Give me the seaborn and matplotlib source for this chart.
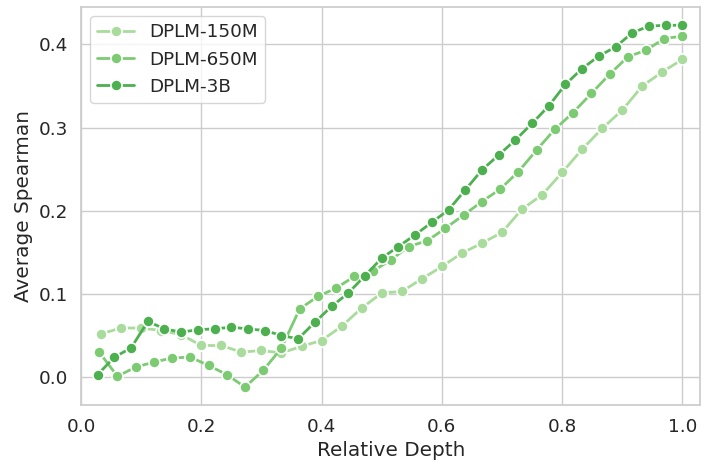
import numpy as np
import pandas as pd
import matplotlib
matplotlib.use("Agg")
import matplotlib.pyplot as plt
import seaborn as sns

# Average Spearman per layer (layers normalised to relative depth)
models = ["DPLM-150M", "DPLM-650M", "DPLM-3B"]

spearman_150m = [0.052, 0.059, 0.059, 0.056, 0.051, 0.038, 0.038, 0.030, 0.032, 0.029,
                 0.037, 0.044, 0.061, 0.083, 0.101, 0.103, 0.118, 0.133, 0.149, 0.161,
                 0.174, 0.202, 0.219, 0.246, 0.274, 0.299, 0.321, 0.350, 0.367, 0.382]

spearman_650m = [0.030, 0.001, 0.012, 0.018, 0.023, 0.024, 0.014, 0.003, -0.012, 0.008,
                 0.035, 0.082, 0.097, 0.107, 0.121, 0.127, 0.141, 0.157, 0.164, 0.179,
                 0.195, 0.211, 0.226, 0.247, 0.273, 0.298, 0.318, 0.341, 0.364, 0.385,
                 0.393, 0.407, 0.410]

spearman_3b = [0.003, 0.024, 0.035, 0.067, 0.058, 0.054, 0.057, 0.058, 0.060, 0.058,
               0.056, 0.050, 0.046, 0.066, 0.085, 0.101, 0.122, 0.143, 0.157, 0.171,
               0.186, 0.201, 0.225, 0.249, 0.267, 0.285, 0.305, 0.326, 0.352, 0.371,
               0.386, 0.397, 0.414, 0.422, 0.423, 0.423]

series = [spearman_150m, spearman_650m, spearman_3b]
colors = ["#a9dc9c", "#7ccb73", "#4db04f"]

frames = []
for name, vals in zip(models, series):
    n = len(vals)
    frames.append(pd.DataFrame({
        "Relative Depth": np.arange(1, n + 1) / n,
        "Average Spearman": vals,
        "Model": name,
    }))
df = pd.concat(frames, ignore_index=True)

sns.set_theme(style="whitegrid", font_scale=1.2)

fig, ax = plt.subplots(figsize=(7.04, 4.65), dpi=100)
sns.lineplot(data=df, x="Relative Depth", y="Average Spearman", hue="Model",
             hue_order=models, palette=colors, marker="o", markersize=8,
             markeredgecolor="white", markeredgewidth=1.2, linewidth=2,
             ax=ax)

ax.set_xlim(0.0, 1.03)
ax.set_ylim(-0.033, 0.445)
ax.set_xticks([0.0, 0.2, 0.4, 0.6, 0.8, 1.0])
ax.set_yticks([0.0, 0.1, 0.2, 0.3, 0.4])
ax.legend(loc="upper left", title=None)

fig.subplots_adjust(left=0.115, right=0.995, top=0.985, bottom=0.13)
fig.savefig("out.png", dpi=100)
